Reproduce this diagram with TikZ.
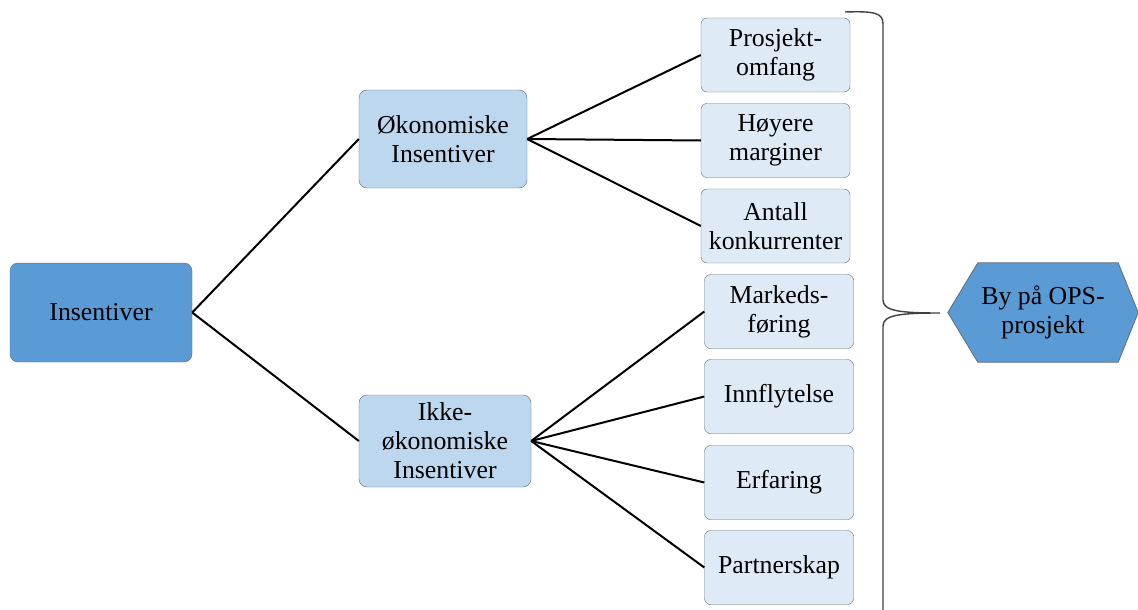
\documentclass[tikz,border=0pt]{standalone}
\usepackage{fontspec}
\setmainfont{Liberation Serif}
\usetikzlibrary{calc}
\definecolor{deepblue}{HTML}{5B9BD5}
\definecolor{midblue}{HTML}{BDD7EE}
\definecolor{paleblue}{HTML}{DEEBF7}
\definecolor{edgegrey}{HTML}{5F6B78}
\begin{document}
\begin{tikzpicture}[x=1pt,y=-1pt,
  every node/.style={font=\fontsize{25.8}{29}\selectfont, align=center, inner sep=0pt},
  rootbox/.style={draw=edgegrey, fill=deepblue, rounded corners=8pt, minimum width=182pt, minimum height=99pt},
  midbox/.style={draw=edgegrey, fill=midblue, rounded corners=8pt, minimum width=170pt, minimum height=96pt},
  leafbox/.style={draw=edgegrey, fill=paleblue, rounded corners=6pt, minimum width=149pt, minimum height=74pt},
  link/.style={draw=black, line width=2pt}]
\useasboundingbox (0,0) rectangle (1138,610);

% root and second level
\node[rootbox] (ins) at (101,312.5) {Insentiver};
\node[midbox, minimum width=168pt, minimum height=98pt] (oko) at (443,139) {Økonomiske\\Insentiver};
\node[midbox, minimum width=172pt, minimum height=92pt] (ikke) at (445,441) {Ikke-\\økonomiske\\Insentiver};

% leaves of the economic branch
\node[leafbox] (p1) at (775.5,55)  {Prosjekt-\\omfang};
\node[leafbox] (p2) at (775.5,140.5) {Høyere\\marginer};
\node[leafbox] (p3) at (775.5,226) {Antall\\konkurrenter};

% leaves of the non-economic branch
\node[leafbox] (q1) at (779,311.5) {Markeds-\\føring};
\node[leafbox] (q2) at (779,396.5) {Innflytelse};
\node[leafbox] (q3) at (779,482.5) {Erfaring};
\node[leafbox] (q4) at (779,567.5) {Partnerskap};

% connectors
\draw[link] (ins.east) -- (oko.west);
\draw[link] (ins.east) -- (ikke.west);
\foreach \t in {p1,p2,p3} \draw[link] (oko.east) -- (\t.west);
\foreach \t in {q1,q2,q3,q4} \draw[link] (ikke.east) -- (\t.west);

% curly brace gathering the leaves
\coordinate (tip) at (940,313);
\draw[line width=1.4pt, draw=black!75]
  (845,12) .. controls (875,11) and (883,13) .. (883,24)
  -- (883,300) .. controls (883,311) and (900,313) .. (tip)
  (tip) .. controls (900,313) and (883,315) .. (883,326)
  -- (883,615);

% outcome hexagon
\node[minimum width=190pt, minimum height=99pt] (hex) at (1043,312.5) {};
\filldraw[fill=deepblue, draw=edgegrey, line width=0.8pt]
  (hex.west) -- ($(hex.north west)+(30,0)$) -- ($(hex.north east)+(-20,0)$)
  -- (hex.east) -- ($(hex.south east)+(-20,0)$) -- ($(hex.south west)+(30,0)$) -- cycle;
\node at (hex.center) {By på OPS-\\prosjekt};
\end{tikzpicture}
\end{document}
